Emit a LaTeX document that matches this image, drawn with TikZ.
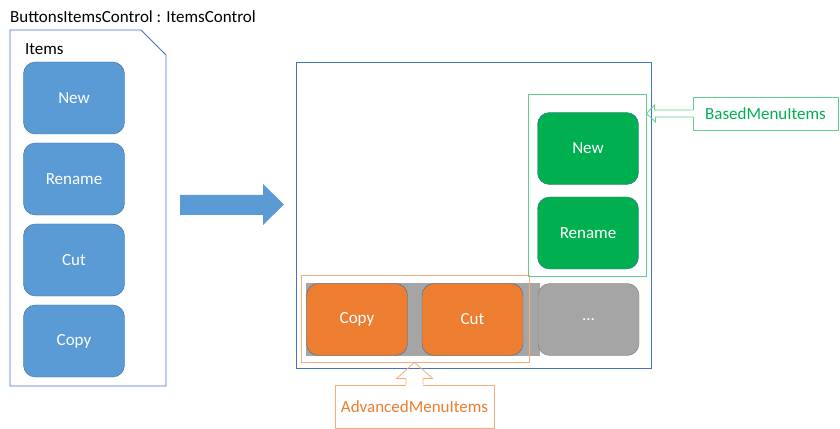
\documentclass[tikz,border=0pt]{standalone}
\usepackage{fontspec}
\setmainfont{Carlito}
\usetikzlibrary{calc}
\definecolor{itemblue}{HTML}{5B9BD5}
\definecolor{btnline}{HTML}{41719C}
\definecolor{frameblue}{HTML}{4472C4}
\definecolor{basegreen}{HTML}{00B050}
\definecolor{grpgreen}{HTML}{5FCF8F}
\definecolor{advorange}{HTML}{ED7D31}
\definecolor{grporange}{HTML}{F4AE7E}
\definecolor{restgray}{HTML}{A5A5A5}

\begin{document}
\begin{tikzpicture}[x=0.03cm,y=-0.03cm,font=\fontsize{14.5}{17}\selectfont,
  btn/.style={draw=btnline,rounded corners=0.36cm,minimum width=3.03cm,minimum height=2.16cm,text=white,inner sep=0pt},
  grp/.style={draw,line width=0.7pt,inner sep=0pt},
  callout/.style={draw,fill=white,line width=0.7pt,inner sep=0pt}]
\useasboundingbox (0,0) rectangle (840,429);
% left side: the items of the control
\node[anchor=west] (title) at (6,17) {ButtonsItemsControl : ItemsControl};
\draw[frameblue,fill=white,line width=0.8pt] (10,30) -- (141,30) -- (166,55) -- (166,386) -- (10,386) -- cycle;
\node[anchor=west] (items) at (21,49) {Items};
\foreach \y/\n/\t in {98/bNew/New,179/bRename/Rename,260/bCut/Cut,341/bCopy/Copy}
  \node[btn,fill=itemblue] (\n) at (74,\y) {\t};
% big arrow
\fill[itemblue] (180,195) -- (263,195) -- (263,184) -- (284,204.5) -- (263,225) -- (263,215) -- (180,215) -- cycle;
% right side: the menu
\node[grp,draw=frameblue,minimum width=10.65cm,minimum height=9.18cm] (menu) at (473.5,215) {};
\fill[restgray] (306,283) rectangle (540,356);
\node[btn,fill=restgray,draw=gray] (more) at (588.5,319.5) {...};
\node[btn,fill=advorange] (mCopy) at (357,319.5) {Copy};
\node[btn,fill=advorange] (mCut) at (472.5,319.5) {Cut};
\node[btn,fill=basegreen] (mNew) at (588,148.5) {New};
\node[btn,fill=basegreen] (mRename) at (588,233) {Rename};
\node[grp,draw=grporange,minimum width=6.84cm,minimum height=2.61cm] (grpA) at (415,318.5) {};
\node[grp,draw=grpgreen,minimum width=3.54cm,minimum height=5.46cm] (grpB) at (587,185) {};
% callouts
\node[callout,draw=grpgreen,text=basegreen,minimum width=4.35cm,minimum height=0.99cm] (based) at (765.5,113.5) {BasedMenuItems};
\fill[white] ($(based.west)+(-1,-3.5)$) rectangle ($(based.west)+(1,3.5)$);
\draw[grpgreen,line width=0.7pt] ($(based.west)+(0,-3.5)$) -- ++(-38,0) -- ++(0,-5) -- (grpB.east |- based.west)
  -- ++(9,8.5) -- ++(0,-5) -- ++(38,0);
\node[callout,draw=grporange,text=advorange,minimum width=4.77cm,minimum height=1.29cm] (adv) at (414.5,406.5) {AdvancedMenuItems};
\fill[white] ($(adv.north)+(-8.5,-1)$) rectangle ($(adv.north)+(8.5,1)$);
\draw[grporange,line width=0.7pt] ($(adv.north)+(-8.5,0)$) -- ++(0,-6) -- ++(-9.5,0) -- (adv.north |- grpA.south)
  -- ++(18,16) -- ++(-9.5,0) -- ++(0,6);
\end{tikzpicture}
\end{document}
